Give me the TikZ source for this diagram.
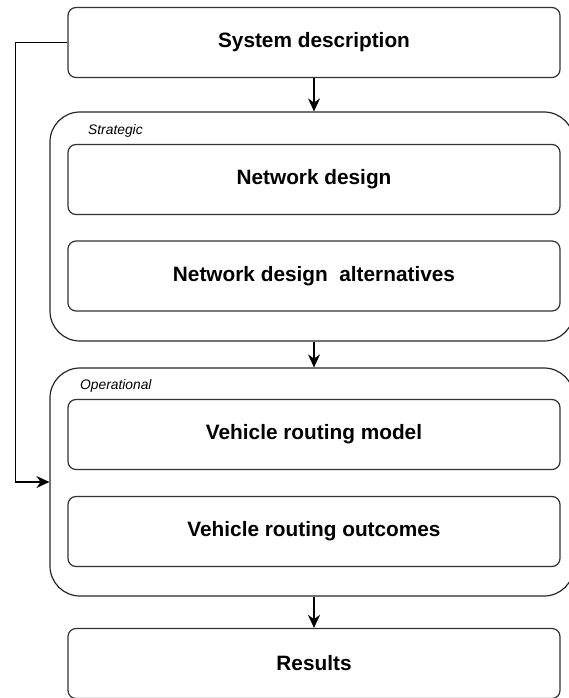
\documentclass[tikz,border=0pt]{standalone}
\usepackage{fontspec}
\setmainfont{Liberation Sans}
\usepackage{tikz}
\usetikzlibrary{
  arrows.meta,
  positioning
}

\begin{document}
\begin{tikzpicture}[x=1pt, y=-1pt,
  stepbox/.style={draw=black!80, rounded corners=8pt, line width=1.2pt,
    minimum width=492pt, minimum height=70pt, inner sep=0pt,
    font=\fontsize{20.8}{24}\selectfont\bfseries},
  groupbox/.style={draw=black!85, rounded corners=30pt, line width=1.2pt,
    minimum width=524pt, inner sep=0pt},
  grouptitle/.style={font=\fontsize{13.8}{16}\selectfont\itshape, anchor=west, inner sep=0pt},
  arr/.style={-{Stealth[length=13pt, width=12pt]}, line width=1.3pt}]
\useasboundingbox (0,0) rectangle (568,698);

% groups
\node[groupbox, minimum height=229pt] (strat) at (312,226.5) {};
\node[groupbox, minimum height=228pt] (ops) at (312,482) {};
\node[grouptitle] (stratlbl) at (88,131) {Strategic};
\node[grouptitle] (opslbl) at (80,386) {Operational};

% steps
\node[stepbox] (sys) at (314,42.5) {System description};
\node[stepbox] (netdes) at (314,179.5) {Network design};
\node[stepbox] (netalt) at (314,276) {Network design\ \ alternatives};
\node[stepbox] (vrmodel) at (314,434.5) {Vehicle routing model};
\node[stepbox] (vrout) at (314,531.5) {Vehicle routing outcomes};
\node[stepbox] (res) at (314,663.5) {Results};

% connectors
\draw[arr] (sys.south) -- (strat.north -| sys.south);
\draw[arr] (strat.south -| sys.south) -- (ops.north -| sys.south);
\draw[arr] (ops.south -| sys.south) -- (res.north);
\draw[arr] (sys.west) -- ++(-52pt,0) |- (ops.west);
\end{tikzpicture}
\end{document}
